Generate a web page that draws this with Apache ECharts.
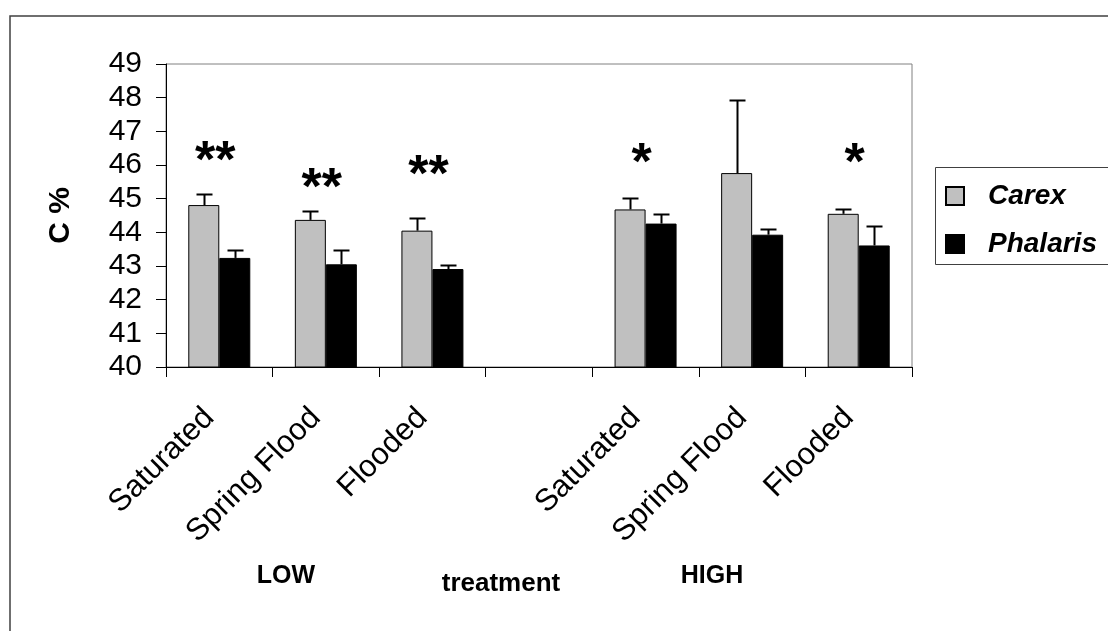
<!DOCTYPE html>
<html>
<head>
<meta charset="utf-8">
<script src="https://cdn.jsdelivr.net/npm/echarts@6/dist/echarts.min.js"></script>
<style>
html,body{margin:0;padding:0;background:#fff;}
#c{width:1108px;height:631px;}
</style>
</head>
<body>
<div id="c"></div>
<script>
// ---- data ----
const categories = ['Saturated', 'Spring Flood', 'Flooded', '', 'Saturated', 'Spring Flood', 'Flooded'];
const carexMean = [44.81, 44.37, 44.05, null, 44.68, 45.76, 44.55];
const carexErr = [0.32, 0.25, 0.38, null, 0.33, 2.16, 0.14];
const phalarisMean = [43.24, 43.05, 42.91, null, 44.26, 43.93, 43.61];
const phalarisErr = [0.24, 0.42, 0.12, null, 0.29, 0.17, 0.58];
const starCats = [0, 1, 2, 4, 6];
const starValues = [46.36, 45.55, 45.94, 46.30, 46.30];
const starTexts = ['**', '**', '**', '*', '*'];
const yTicks = [40, 41, 42, 43, 44, 45, 46, 47, 48, 49];
const groupLabels = ['LOW', 'treatment', 'HIGH'];

const FONT = '"Liberation Sans", Arial, sans-serif';
const BAR_W = 31;

function errData(means, errs) {
  const out = [];
  means.forEach((m, i) => { if (m != null) out.push([i, m, errs[i]]); });
  return out;
}
function errRender(offset) {
  return function (params, api) {
    const i = api.value(0), v = api.value(1), e = api.value(2);
    const b = api.coord([i, v]);
    const t = api.coord([i, v + e]);
    const cx = Math.round(b[0] + offset) + 0.5;
    const ty = Math.round(t[1]) + 0.5;
    const st = { stroke: '#000', lineWidth: 2 };
    return {
      type: 'group',
      children: [
        { type: 'line', shape: { x1: cx, y1: b[1], x2: cx, y2: ty }, style: st },
        { type: 'line', shape: { x1: cx - 8, y1: ty, x2: cx + 8, y2: ty }, style: st }
      ]
    };
  };
}

const chart = echarts.init(document.getElementById('c'));
chart.setOption({
  animation: false,
  backgroundColor: '#fff',
  grid: { left: 166, top: 64, width: 746, height: 303, show: true, borderColor: '#808080', borderWidth: 1, backgroundColor: 'transparent' },
  legend: {
    orient: 'vertical',
    left: 945, top: 181,
    padding: 0,
    itemWidth: 18, itemHeight: 18,
    itemGap: 18,
    data: ['Carex', 'Phalaris'],
    textStyle: { fontFamily: FONT, fontSize: 28, fontWeight: 'bold', fontStyle: 'italic', color: '#000', lineHeight: 30, padding: [0, 0, 0, 19] },
    icon: 'rect'
  },
  xAxis: {
    type: 'category',
    data: categories,
    axisLine: { lineStyle: { color: '#000', width: 1 } },
    axisTick: { show: true, length: 10, lineStyle: { color: '#000' } },
    axisLabel: { interval: 0, rotate: 45, fontFamily: FONT, fontSize: 31, color: '#000', margin: 36, padding: [0, 14, 0, 0] },
    splitLine: { show: false }
  },
  yAxis: {
    type: 'value',
    min: 40, max: 49, interval: 1,
    name: 'C %',
    nameLocation: 'middle',
    nameGap: 90,
    nameTextStyle: { fontFamily: FONT, fontSize: 30, fontWeight: 'bold', color: '#000' },
    axisLine: { show: true, lineStyle: { color: '#000', width: 1 } },
    axisTick: { show: true, length: 10, lineStyle: { color: '#000' } },
    axisLabel: { fontFamily: FONT, fontSize: 30, color: '#000', margin: 24,
      formatter: v => (yTicks.indexOf(v) >= 0 ? String(v) : '') },
    splitLine: { show: false }
  },
  series: [
    { name: 'Carex', type: 'bar', data: carexMean, barWidth: BAR_W, barGap: '0%',
      itemStyle: { color: '#C0C0C0', borderColor: '#000', borderWidth: 1 } },
    { name: 'Phalaris', type: 'bar', data: phalarisMean, barWidth: BAR_W, barGap: '0%',
      itemStyle: { color: '#000', borderColor: '#000', borderWidth: 1 } },
    { type: 'custom', data: errData(carexMean, carexErr), renderItem: errRender(-BAR_W / 2), z: 5, silent: true },
    { type: 'custom', data: errData(phalarisMean, phalarisErr), renderItem: errRender(BAR_W / 2), z: 5, silent: true },
    { type: 'custom', z: 6, silent: true,
      data: starCats.map((c, k) => [c, starValues[k]]),
      renderItem: function (params, api) {
        const p = api.coord([api.value(0), api.value(1)]);
        return { type: 'text', x: p[0] - 4, y: p[1] + 10,
          style: { text: starTexts[params.dataIndex], fontFamily: FONT, fontSize: 52, fontWeight: 'bold', fill: '#000', align: 'center', verticalAlign: 'middle' } };
      } }
  ],
  graphic: [
    { type: 'rect', shape: { x: 10, y: 16, width: 1200, height: 700 }, style: { fill: 'none', stroke: '#404040', lineWidth: 1.5 }, silent: true },
    { type: 'rect', shape: { x: 935.5, y: 167.5, width: 300, height: 97 }, style: { fill: 'none', stroke: '#404040', lineWidth: 1 }, silent: true },
    { type: 'text', x: 286, y: 576, style: { text: groupLabels[0], fontFamily: FONT, fontSize: 25, fontWeight: 'bold', fill: '#000', align: 'center', verticalAlign: 'middle' } },
    { type: 'text', x: 501, y: 584, style: { text: groupLabels[1], fontFamily: FONT, fontSize: 26, fontWeight: 'bold', fill: '#000', align: 'center', verticalAlign: 'middle' } },
    { type: 'text', x: 712, y: 576, style: { text: groupLabels[2], fontFamily: FONT, fontSize: 25, fontWeight: 'bold', fill: '#000', align: 'center', verticalAlign: 'middle' } }
  ]
});
</script>
</body>
</html>
